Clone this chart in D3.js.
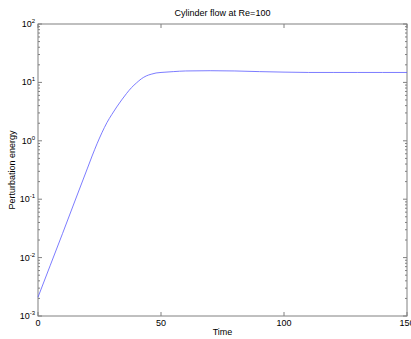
<!DOCTYPE html>
<html lang='en'>
<head>
<meta charset='utf-8'>
<script src='https://cdn.jsdelivr.net/npm/d3@7'></script>
<style>
  body { margin: 0; background: #fff; }
  text { font-family: 'Liberation Sans', Arial, sans-serif; fill: #000; }
</style>
</head>
<body>
<svg id='svg' width='411' height='339'></svg>
<script>
// data
var times  = [0, 5, 10, 15, 20, 22, 24, 26, 28, 30, 32, 34, 36, 38, 40, 42, 44, 46, 48, 50,
              55, 60, 70, 80, 90, 100, 110, 120, 130, 140, 150];
var energy = [0.0021, 0.0074, 0.026, 0.093, 0.33, 0.55, 0.89, 1.38, 2.04, 2.82, 3.8, 5.0, 6.46, 8.13, 9.77, 11.5, 12.9, 13.8, 14.5, 14.8,
              15.3, 15.7, 15.85, 15.7, 15.3, 15.0, 14.8, 14.8, 14.8, 14.8, 14.8];
var xTicks = [0, 50, 100, 150];
var yTicks = [-3, -2, -1, 0, 1, 2];

var svg = d3.select('#svg');
var plotLeft = 38, plotRight = 407, plotTop = 24, plotBottom = 316;

var x = d3.scaleLinear().domain([0, 150]).range([plotLeft, plotRight]);
var y = d3.scaleLog().domain([1e-3, 1e2]).range([plotBottom, plotTop]);

var axisColor = '#808080';

// box
svg.append('rect').attr('x', plotLeft).attr('y', plotTop)
  .attr('width', plotRight - plotLeft).attr('height', plotBottom - plotTop)
  .attr('fill', 'none').attr('stroke', axisColor).attr('stroke-width', 1);

// x ticks (inward, bottom and top)
var g = svg.append('g').attr('stroke', axisColor).attr('stroke-width', 1);
xTicks.forEach(function(t) {
  g.append('line').attr('x1', x(t)).attr('x2', x(t)).attr('y1', plotBottom).attr('y2', plotBottom - 4);
  g.append('line').attr('x1', x(t)).attr('x2', x(t)).attr('y1', plotTop).attr('y2', plotTop + 4);
});

// y ticks, major and minor, on both sides
yTicks.forEach(function(p, i) {
  var v = Math.pow(10, p);
  g.append('line').attr('x1', plotLeft).attr('x2', plotLeft + 4).attr('y1', y(v)).attr('y2', y(v));
  g.append('line').attr('x1', plotRight).attr('x2', plotRight - 4).attr('y1', y(v)).attr('y2', y(v));
  if (i < yTicks.length - 1) {
    for (var m = 2; m < 10; m++) {
      var mv = m * v;
      g.append('line').attr('x1', plotLeft).attr('x2', plotLeft + 2).attr('y1', y(mv)).attr('y2', y(mv));
      g.append('line').attr('x1', plotRight).attr('x2', plotRight - 2).attr('y1', y(mv)).attr('y2', y(mv));
    }
  }
});

// x tick labels
svg.selectAll('.xl').data(xTicks).enter().append('text')
  .attr('x', d => x(d)).attr('y', 326).attr('text-anchor', 'middle')
  .attr('font-size', 9).text(d => d);

// y tick labels 10^p
yTicks.forEach(function(p) {
  var t = svg.append('text').attr('x', 35).attr('y', y(Math.pow(10, p)) + 3)
    .attr('text-anchor', 'end').attr('font-size', 9);
  t.append('tspan').text('10');
  t.append('tspan').attr('dy', -4).attr('font-size', 6).text(p);
});

// line
var line = d3.line().x((d, i) => x(times[i])).y(d => y(d)).curve(d3.curveMonotoneX);
svg.append('path').datum(energy).attr('d', line)
  .attr('fill', 'none').attr('stroke', '#5a5aff').attr('stroke-width', 0.8);

// labels
svg.append('text').attr('x', (plotLeft + plotRight) / 2).attr('y', 16).attr('text-anchor', 'middle')
  .attr('font-size', 9).text('Cylinder flow at Re=100');
svg.append('text').attr('x', (plotLeft + plotRight) / 2).attr('y', 335).attr('text-anchor', 'middle')
  .attr('font-size', 9).text('Time');
svg.append('text').attr('transform', 'translate(15,' + (plotTop + plotBottom) / 2 + ') rotate(-90)')
  .attr('text-anchor', 'middle').attr('font-size', 9).text('Perturbation energy');
</script>
</body>
</html>
